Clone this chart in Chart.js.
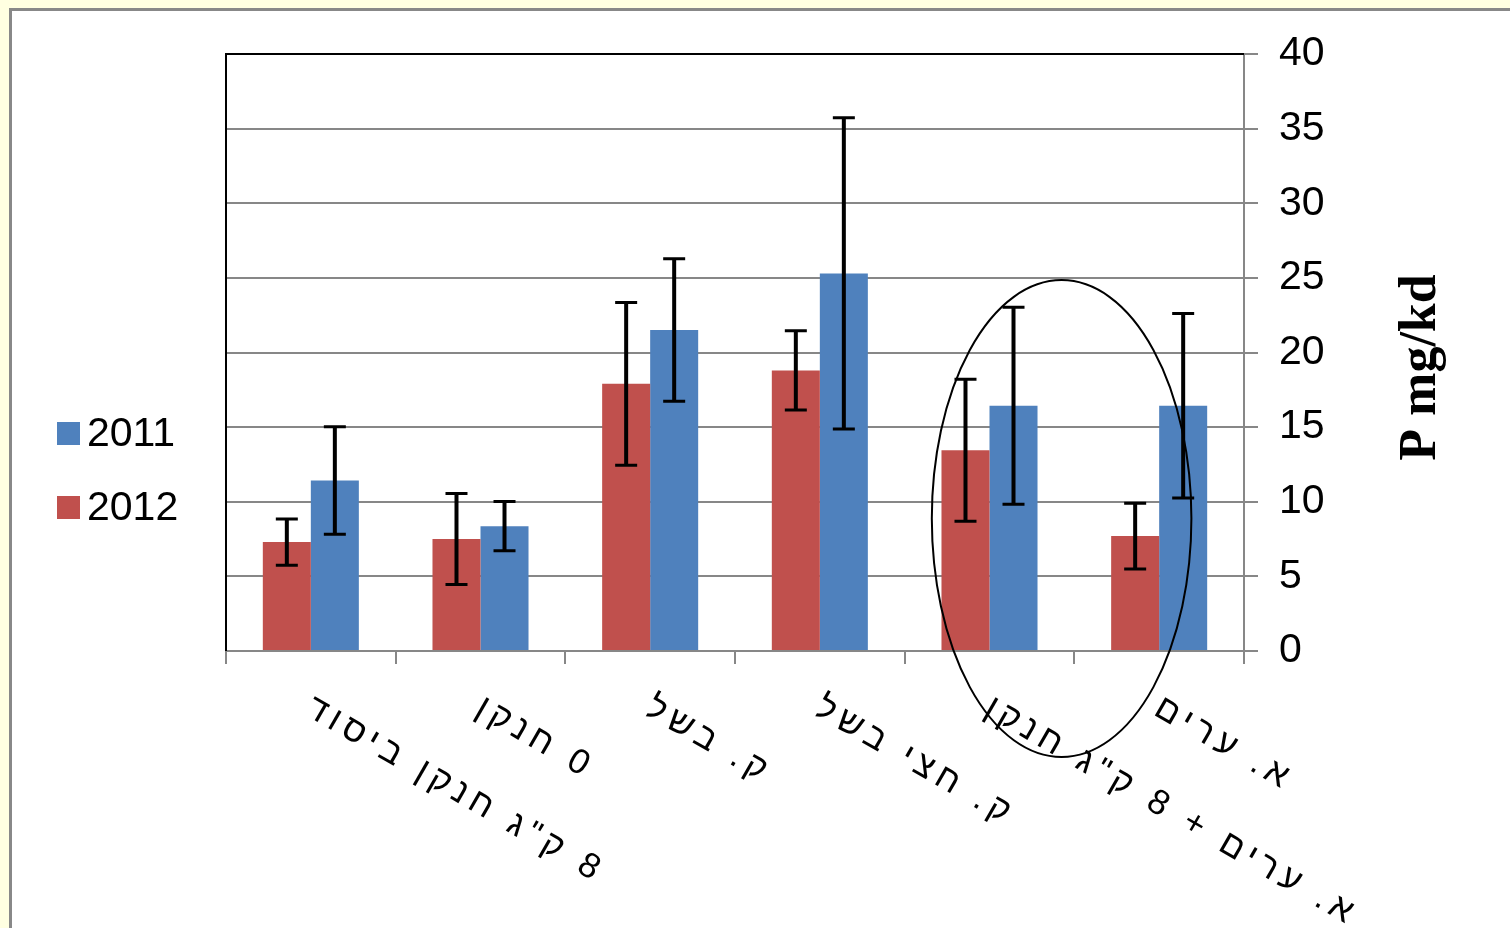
<!DOCTYPE html>
<html>
<head>
<meta charset="utf-8">
<script src="https://cdn.jsdelivr.net/npm/chart.js@4.4.1/dist/chart.umd.min.js"></script>
<style>
  html, body { margin: 0; padding: 0; background: #ffffe1; overflow: hidden; }
  #frame { position: absolute; left: 9px; top: 8px; width: 1520px; height: 940px;
           background: #fff; border-left: 3px solid #888; border-top: 3px solid #888; }
  #wrap { position: absolute; left: 0; top: 0; width: 1510px; height: 928px; }
</style>
</head>
<body>
<div id="frame"></div>
<div id="wrap"><canvas id="myChart" width="1510" height="928"></canvas></div>
<script>
const categories = ['8 ק"ג חנקן ביסוד', '0 חנקן', 'ק. בשל', 'ק. חצי בשל', 'א. ערים + 8 ק"ג חנקן', 'א. ערים'];
const values2012 = [7.3, 7.5, 17.9, 18.8, 13.45, 7.7];
const err2012 = [1.55, 3.05, 5.45, 2.65, 4.75, 2.2];
const values2011 = [11.43, 8.36, 21.51, 25.3, 16.43, 16.43];
const err2011 = [3.6, 1.65, 4.77, 10.43, 6.6, 6.18];
const yTicks = [0, 5, 10, 15, 20, 25, 30, 35, 40];
const yTitle = 'P mg/kd';

// hand drawn ellipse round the 5th group, in axis units
const ellipse = { x: 4.425, halfWidth: 0.765, yTop: 24.85, yBottom: -7.1 };

const gray = '#878787';

const decor = {
  id: 'decor',
  beforeDatasetsDraw(chart) {
    const { ctx, chartArea: a } = chart;
    ctx.save();
    ctx.strokeStyle = '#000';
    ctx.lineWidth = 2;
    ctx.beginPath();
    ctx.moveTo(a.left, a.bottom);
    ctx.lineTo(a.left, a.top);
    ctx.lineTo(a.right, a.top);
    ctx.stroke();
    ctx.restore();
  },
  afterDatasetsDraw(chart) {
    const { ctx } = chart;
    const y = chart.scales.y;
    ctx.save();
    ctx.strokeStyle = '#000';
    chart.data.datasets.forEach((ds, i) => {
      chart.getDatasetMeta(i).data.forEach((bar, j) => {
        const v = ds.data[j], e = ds.errors[j];
        const hi = y.getPixelForValue(v + e), lo = y.getPixelForValue(v - e);
        ctx.lineWidth = 4;
        ctx.beginPath();
        ctx.moveTo(bar.x, hi);
        ctx.lineTo(bar.x, lo);
        ctx.stroke();
        ctx.lineWidth = 3;
        ctx.beginPath();
        ctx.moveTo(bar.x - 11, hi); ctx.lineTo(bar.x + 11, hi);
        ctx.moveTo(bar.x - 11, lo); ctx.lineTo(bar.x + 11, lo);
        ctx.stroke();
      });
    });
    ctx.restore();
  },
  afterDraw(chart) {
    const { ctx, chartArea: a } = chart;
    const x = chart.scales.x, y = chart.scales.y;

    // category labels, rotated clockwise
    ctx.save();
    ctx.fillStyle = '#000';
    ctx.font = '35px "Liberation Sans"';
    ctx.direction = 'rtl';
    ctx.letterSpacing = '6px';
    ctx.textAlign = 'left';
    ctx.textBaseline = 'alphabetic';
    categories.forEach((c, i) => {
      const px = x.getPixelForValue(i);
      ctx.save();
      ctx.translate(px - 7, a.bottom + 63);
      ctx.rotate(Math.PI / 6);
      ctx.fillText(c, 0, 0);
      ctx.restore();
    });
    ctx.restore();

    // axis title, reading upwards
    ctx.save();
    ctx.fillStyle = '#000';
    ctx.font = 'bold 52px "Liberation Serif"';
    ctx.textAlign = 'center';
    ctx.textBaseline = 'alphabetic';
    ctx.translate(a.right + 191, (a.top + a.bottom) / 2 + 15);
    ctx.rotate(-Math.PI / 2);
    ctx.fillText(yTitle, 0, 0);
    ctx.restore();

    // legend, 2011 on top
    ctx.save();
    ctx.font = '41px "Liberation Sans"';
    ctx.textBaseline = 'middle';
    ctx.textAlign = 'left';
    const items = chart.data.datasets.slice().reverse();
    items.forEach((ds, k) => {
      const top = 422 + k * 74;
      ctx.fillStyle = ds.backgroundColor;
      ctx.fillRect(57, top, 23, 23);
      ctx.fillStyle = '#000';
      ctx.fillText(ds.label, 87, top + 13);
    });
    ctx.restore();

    // ellipse
    const cx = x.getPixelForValue(ellipse.x);
    const rx = x.getPixelForValue(ellipse.x + ellipse.halfWidth) - cx;
    const t = y.getPixelForValue(ellipse.yTop), b = y.getPixelForValue(ellipse.yBottom);
    ctx.save();
    ctx.strokeStyle = '#000';
    ctx.lineWidth = 2;
    ctx.beginPath();
    ctx.ellipse(cx, (t + b) / 2, rx, (b - t) / 2, 0, 0, Math.PI * 2);
    ctx.stroke();
    ctx.restore();
  }
};

const ctx = document.getElementById('myChart');

const myChart = new Chart(ctx, {
  type: 'bar',
  data: {
    labels: categories,
    datasets: [
      { label: '2012', data: values2012, errors: err2012, backgroundColor: '#C0504D',
        categoryPercentage: 0.566, barPercentage: 1.0 },
      { label: '2011', data: values2011, errors: err2011, backgroundColor: '#4F81BD',
        categoryPercentage: 0.566, barPercentage: 1.0 }
    ]
  },
  options: {
    responsive: false,
    animation: false,
    layout: { padding: { left: 226, right: 182, top: 54, bottom: 0 } },
    plugins: { legend: { display: false }, tooltip: { enabled: false } },
    scales: {
      x: {
        afterFit: s => { s.height = 277; },
        ticks: { display: false },
        grid: { drawOnChartArea: false, drawTicks: true, tickLength: 13, color: gray, lineWidth: 2, offset: true },
        border: { color: gray, width: 2 }
      },
      y: {
        position: 'right',
        min: 0,
        max: 40,
        afterBuildTicks: s => { s.ticks = yTicks.map(v => ({ value: v })); },
        afterFit: s => { s.width = 84; },
        grid: { color: gray, lineWidth: 2, tickLength: 14 },
        border: { color: gray, width: 2 },
        ticks: { font: { family: 'Liberation Sans', size: 41 }, color: '#000', padding: 21 }
      }
    }
  },
  plugins: [decor]
});
</script>
</body>
</html>
